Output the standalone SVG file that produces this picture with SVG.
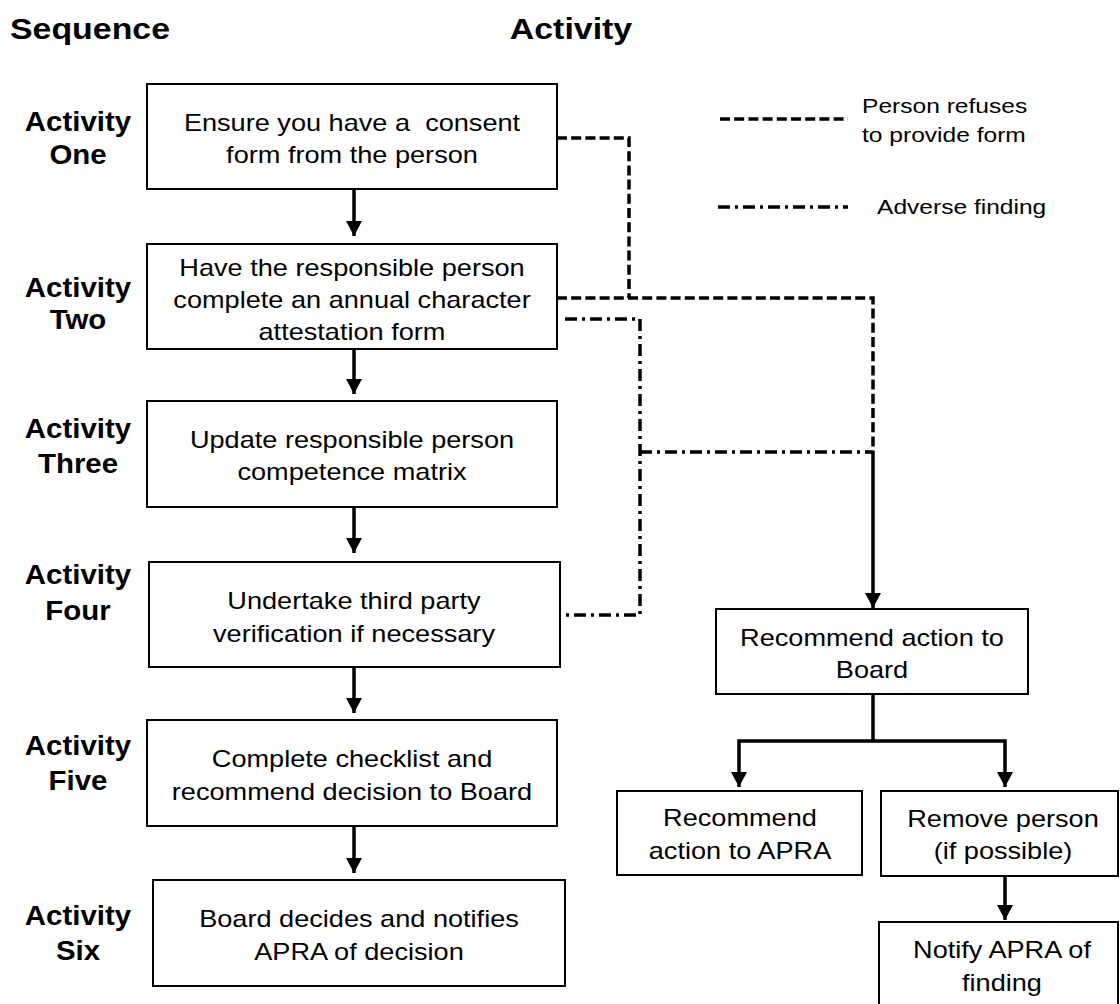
<svg xmlns="http://www.w3.org/2000/svg" width="1120" height="1004" viewBox="0 0 1120 1004">
  <defs>
    <style>
      .box { fill: #fff; stroke: #000; stroke-width: 2; }
      .t { font-family: "Liberation Sans", Arial, sans-serif; font-size: 23px; fill: #000; text-anchor: middle; }
      .lg { font-family: "Liberation Sans", Arial, sans-serif; font-size: 21px; fill: #000; }
      .lbl { font-family: "Liberation Sans", Arial, sans-serif; font-size: 27px; font-weight: bold; fill: #000; text-anchor: middle; }
      .hd { font-family: "Liberation Sans", Arial, sans-serif; font-size: 30px; font-weight: bold; fill: #000; text-anchor: middle; }
      .solid { fill: none; stroke: #000; stroke-width: 3.5; }
      .dash { fill: none; stroke: #000; stroke-width: 3.5; stroke-dasharray: 10 4.2; }
      .dashdot { fill: none; stroke: #000; stroke-width: 3.5; stroke-dasharray: 12 5 3 5; }
    </style>
    <marker id="arrow" markerUnits="userSpaceOnUse" viewBox="0 0 16 16" markerWidth="16" markerHeight="16" refX="15" refY="8" orient="auto">
      <path d="M0,0 L15,8 L0,16 Z" fill="#000"/>
    </marker>
  </defs>

  <!-- column headings -->
  <g id="headings">
    <text class="hd" transform="translate(90 39) scale(1.13 1)">Sequence</text>
    <text class="hd" transform="translate(571 39) scale(1.13 1)">Activity</text>
  </g>

  <!-- sequence labels -->
  <g id="labels">
    <text class="lbl" transform="translate(78 131) scale(1.09 1)">Activity</text>
    <text class="lbl" transform="translate(78 164) scale(1.09 1)">One</text>
    <text class="lbl" transform="translate(78 297) scale(1.09 1)">Activity</text>
    <text class="lbl" transform="translate(78 329) scale(1.09 1)">Two</text>
    <text class="lbl" transform="translate(78 438) scale(1.09 1)">Activity</text>
    <text class="lbl" transform="translate(78 473) scale(1.09 1)">Three</text>
    <text class="lbl" transform="translate(78 584) scale(1.09 1)">Activity</text>
    <text class="lbl" transform="translate(78 620) scale(1.09 1)">Four</text>
    <text class="lbl" transform="translate(78 755) scale(1.09 1)">Activity</text>
    <text class="lbl" transform="translate(78 790) scale(1.09 1)">Five</text>
    <text class="lbl" transform="translate(78 925) scale(1.09 1)">Activity</text>
    <text class="lbl" transform="translate(78 960) scale(1.09 1)">Six</text>
  </g>

  <!-- legend -->
  <g id="legend">
    <line class="dash" x1="720" y1="119" x2="848" y2="119"/>
    <text class="lg" transform="translate(862 113) scale(1.17 1)">Person refuses</text>
    <text class="lg" transform="translate(862 142) scale(1.17 1)">to provide form</text>
    <line class="dashdot" x1="718" y1="207" x2="848" y2="207"/>
    <text class="lg" transform="translate(877 214) scale(1.17 1)">Adverse finding</text>
  </g>

  <!-- activity boxes -->
  <g id="act1">
    <rect class="box" x="147" y="84" width="410" height="105"/>
    <text class="t" xml:space="preserve" style="white-space:pre" transform="translate(352 131) scale(1.18 1)">Ensure you have a  consent</text>
    <text class="t" transform="translate(352 163) scale(1.18 1)">form from the person</text>
  </g>
  <g id="act2">
    <rect class="box" x="147" y="244" width="410" height="105"/>
    <text class="t" transform="translate(352 276) scale(1.18 1)">Have the responsible person</text>
    <text class="t" transform="translate(352 308) scale(1.18 1)">complete an annual character</text>
    <text class="t" transform="translate(352 340) scale(1.18 1)">attestation form</text>
  </g>
  <g id="act3">
    <rect class="box" x="147" y="401" width="410" height="106"/>
    <text class="t" transform="translate(352 448) scale(1.18 1)">Update responsible person</text>
    <text class="t" transform="translate(352 480) scale(1.18 1)">competence matrix</text>
  </g>
  <g id="act4">
    <rect class="box" x="149" y="562" width="411" height="105"/>
    <text class="t" transform="translate(354 609) scale(1.18 1)">Undertake third party</text>
    <text class="t" transform="translate(354 642) scale(1.18 1)">verification if necessary</text>
  </g>
  <g id="act5">
    <rect class="box" x="147" y="720" width="410" height="106"/>
    <text class="t" transform="translate(352 767) scale(1.18 1)">Complete checklist and</text>
    <text class="t" transform="translate(352 800) scale(1.18 1)">recommend decision to Board</text>
  </g>
  <g id="act6">
    <rect class="box" x="153" y="880" width="412" height="106"/>
    <text class="t" transform="translate(359 927) scale(1.18 1)">Board decides and notifies</text>
    <text class="t" transform="translate(359 960) scale(1.18 1)">APRA of decision</text>
  </g>

  <!-- outcome boxes -->
  <g id="board">
    <rect class="box" x="716" y="609" width="312" height="85"/>
    <text class="t" transform="translate(872 646) scale(1.18 1)">Recommend action to</text>
    <text class="t" transform="translate(872 678) scale(1.18 1)">Board</text>
  </g>
  <g id="apra">
    <rect class="box" x="617" y="791" width="245" height="84"/>
    <text class="t" transform="translate(740 826) scale(1.18 1)">Recommend</text>
    <text class="t" transform="translate(740 859) scale(1.18 1)">action to APRA</text>
  </g>
  <g id="remove">
    <rect class="box" x="881" y="791" width="237" height="85"/>
    <text class="t" transform="translate(1003 827) scale(1.18 1)">Remove person</text>
    <text class="t" transform="translate(1003 859) scale(1.18 1)">(if possible)</text>
  </g>
  <g id="notify">
    <rect class="box" x="879" y="922" width="239" height="100"/>
    <text class="t" transform="translate(1002 958) scale(1.18 1)">Notify APRA of</text>
    <text class="t" transform="translate(1002 991) scale(1.18 1)">finding</text>
  </g>

  <!-- connectors -->
  <g id="connectors">
    <line class="solid" x1="354" y1="189" x2="354" y2="236" marker-end="url(#arrow)"/>
    <line class="solid" x1="354" y1="349" x2="354" y2="394" marker-end="url(#arrow)"/>
    <line class="solid" x1="354" y1="507" x2="354" y2="553" marker-end="url(#arrow)"/>
    <line class="solid" x1="354" y1="667" x2="354" y2="713" marker-end="url(#arrow)"/>
    <line class="solid" x1="354" y1="826" x2="354" y2="873" marker-end="url(#arrow)"/>

    <path class="dash" d="M557,138 H629 V298"/>
    <path class="dash" d="M557,298 H873 V452"/>
    <path class="dashdot" d="M565,319 H640 V615 H563"/>
    <path class="dashdot" d="M640,452 H873"/>
    <line class="solid" x1="873" y1="452" x2="873" y2="608" marker-end="url(#arrow)"/>

    <line class="solid" x1="873" y1="694" x2="873" y2="741"/>
    <path class="solid" d="M873,741 H739 V787" marker-end="url(#arrow)"/>
    <path class="solid" d="M873,741 H1005 V787" marker-end="url(#arrow)"/>
    <line class="solid" x1="1005" y1="876" x2="1005" y2="920" marker-end="url(#arrow)"/>
  </g>
</svg>
